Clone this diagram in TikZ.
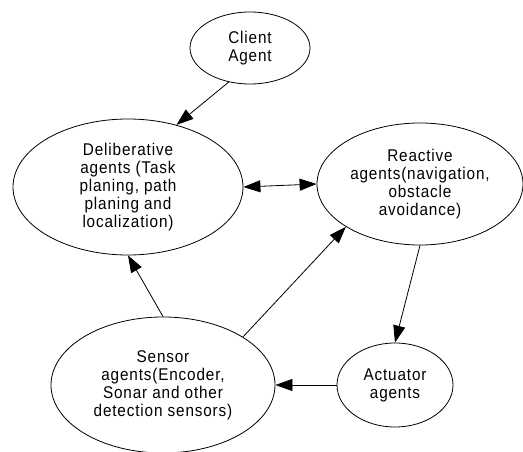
\documentclass[tikz,border=0pt]{standalone}
\usepackage{fontspec}
\setmainfont{Liberation Sans}[FakeStretch=0.9,LetterSpace=5]
\usetikzlibrary{shapes.geometric,arrows.meta}
\begin{document}
\begin{tikzpicture}[x=1pt,y=-1pt,
  agent/.style={ellipse,draw,line width=0.8pt,inner sep=0pt,align=center,
    font=\fontsize{17}{18}\selectfont},
  link/.style={line width=0.8pt,-{Triangle[length=17pt,width=12pt]}},
  blink/.style={line width=0.8pt,{Triangle[length=17pt,width=12pt]}-{Triangle[length=17pt,width=12pt]}}]
\useasboundingbox (0,0) rectangle (523,452);
\node[agent,minimum width=120pt,minimum height=72pt] (client) at (250,48) {Client\\Agent};
\node[agent,minimum width=230pt,minimum height=136pt] (delib) at (128,187) {Deliberative\\agents (Task\\planing, path\\planing and\\localization)};
\node[agent,minimum width=206pt,minimum height=122pt] (react) at (420,184) {Reactive\\agents(navigation,\\obstacle\\avoidance)};
\node[agent,minimum width=224pt,minimum height=136pt] (sensor) at (163,385) {Sensor\\agents(Encoder,\\Sonar and other\\detection sensors)};
\node[agent,minimum width=116pt,minimum height=84pt] (act) at (395,385) {Actuator\\agents};
\draw[link] (client.238) -- (delib.52.6);
\draw[blink] (delib.east) -- (react.west);
\draw[link] (sensor.north) -- (delib.south);
\draw[link] (sensor.31.3) -- (react.210.8);
\draw[link] (react.south) -- (act.north);
\draw[link] (act.west) -- (sensor.east);
\end{tikzpicture}
\end{document}
